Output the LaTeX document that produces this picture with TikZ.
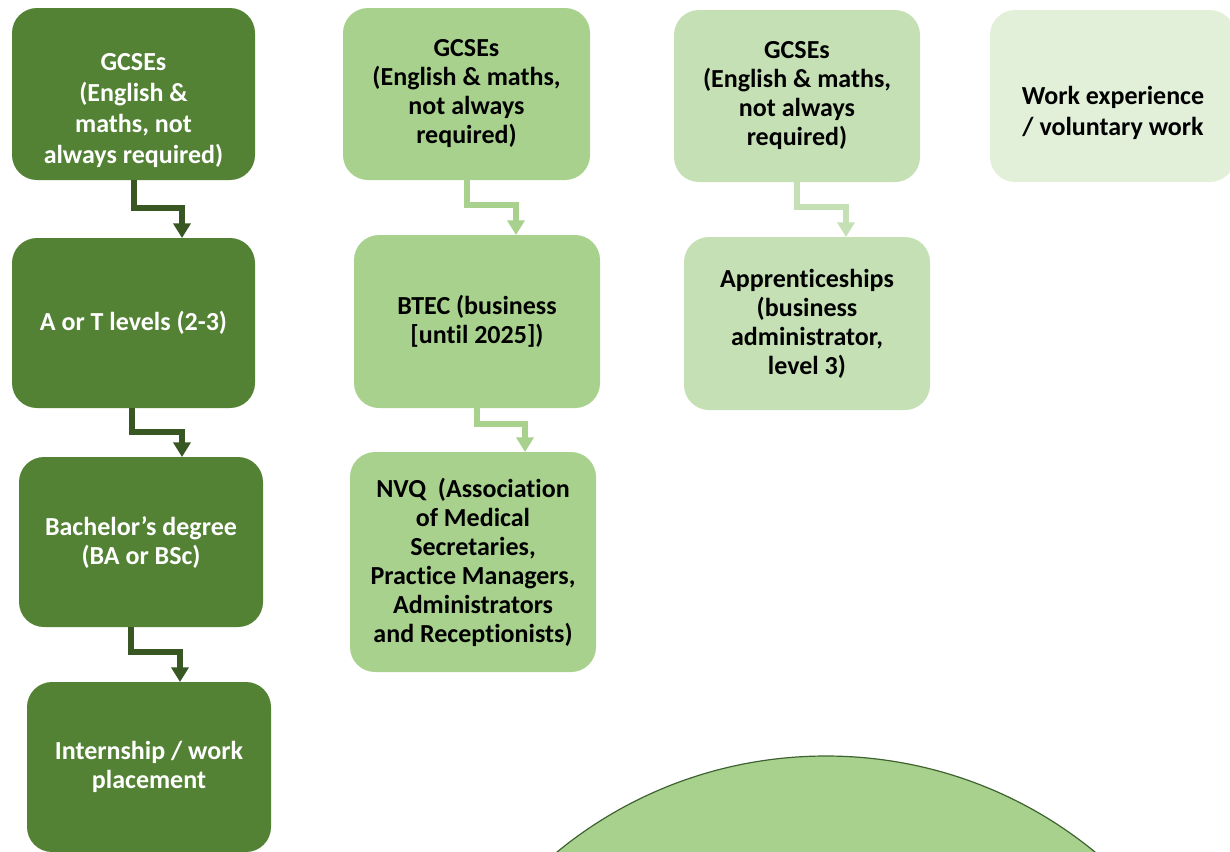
\documentclass[tikz,border=0pt]{standalone}
\usepackage{fontspec}
\setmainfont{Carlito}[Ligatures=CommonOff]
\usetikzlibrary{arrows.meta,calc,shapes.geometric}
\definecolor{dkbox}{HTML}{548235}
\definecolor{dkarrow}{HTML}{385723}
\definecolor{midgreen}{HTML}{A9D18E}
\definecolor{lightgreen}{HTML}{C5E0B4}
\definecolor{palegreen}{HTML}{E2F0D9}
\definecolor{ovalline}{HTML}{3E6330}
\begin{document}
\begin{tikzpicture}[x=0.75pt,y=-0.75pt,
  box/.style={rounded corners=18.75pt, inner sep=0pt, outer sep=0pt, align=center,
    font=\fontsize{19.5pt}{21.75pt}\selectfont\bfseries},
  dkb/.style={box, fill=dkbox, text=white},
  midb/.style={box, fill=midgreen, text=black},
  ltb/.style={box, fill=lightgreen, text=black},
  paleb/.style={box, fill=palegreen, text=black},
  txt/.style={inner sep=0pt, align=center, font=\fontsize{19.5pt}{23.25pt}\selectfont\bfseries},
  elbow/.style={line width=4.5pt, -{Triangle[width=12.75pt,length=11pt]}},
  arrdk/.style={elbow, draw=dkarrow},
  arrmid/.style={elbow, draw=midgreen},
  arrlt/.style={elbow, draw=lightgreen}
]
\useasboundingbox (0,0) rectangle (1230,851);
\clip (0,0) rectangle (1230,851);

% column 1
\node[dkb, minimum width=182.25pt, minimum height=129pt] (b1) at (133.5,94) {};
\node[txt, text=white] (b1t) at (133.5,110.5) {GCSEs\\(English \&\\maths, not\\always required)};
\node[dkb, minimum width=182.25pt, minimum height=127.5pt] (b2) at (133.5,323) {A or T levels (2-3)};
\node[dkb, minimum width=183pt, minimum height=127.5pt] (b3) at (141,542) {Bachelor’s degree\\(BA or BSc)};
\node[dkb, minimum width=183pt, minimum height=127.5pt] (b4) at (149,767) {Internship / work\\placement};

% column 2
\node[midb, minimum width=185.25pt, minimum height=129pt] (b5) at (466.5,94) {GCSEs\\(English \& maths,\\not always\\required)};
\node[midb, minimum width=184.5pt, minimum height=129.75pt] (b6) at (477,321.5) {BTEC (business\\{[until 2025])}};
\node[midb, minimum width=184.5pt, minimum height=165pt] (b7) at (473,562) {NVQ\ \ (Association\\of Medical\\Secretaries,\\Practice Managers,\\Administrators\\and Receptionists)};

% column 3
\node[ltb, minimum width=184.5pt, minimum height=129pt] (b8) at (797,96) {GCSEs\\(English \& maths,\\not always\\required)};
\node[ltb, minimum width=184.5pt, minimum height=129.75pt] (b9) at (807,323.5) {Apprenticeships\\(business\\administrator,\\level 3)};

% column 4
\node[paleb, minimum width=183.75pt, minimum height=129pt] (b10) at (1112.5,96) {};
\node[txt, text=black] (b10t) at (1113,112.5) {Work experience\\/ voluntary work};

% oval
\node[ellipse, draw=ovalline, line width=0.9pt, fill=midgreen, inner sep=0pt,
      minimum width=630pt, minimum height=621pt] (oval) at (826,1170) {};

% connectors
\draw[arrdk] (b1.south) -- ++(0,28) -| ($(b2.north)+(48.5,0)$);
\draw[arrdk] ($(b2.south)+(-1.5,0)$) -- ++(0,24) -| ($(b3.north)+(41,0)$);
\draw[arrdk] ($(b3.south)+(-10,0)$) -- ++(0,25) -| ($(b4.north)+(31,0)$);
\draw[arrmid] (b5.south) -- ++(0,25) -| ($(b6.north)+(39,0)$);
\draw[arrmid] (b6.south) -- ++(0,16) -| ($(b7.north)+(52,0)$);
\draw[arrlt] (b8.south) -- ++(0,25) -| ($(b9.north)+(39,0)$);
\end{tikzpicture}
\end{document}
